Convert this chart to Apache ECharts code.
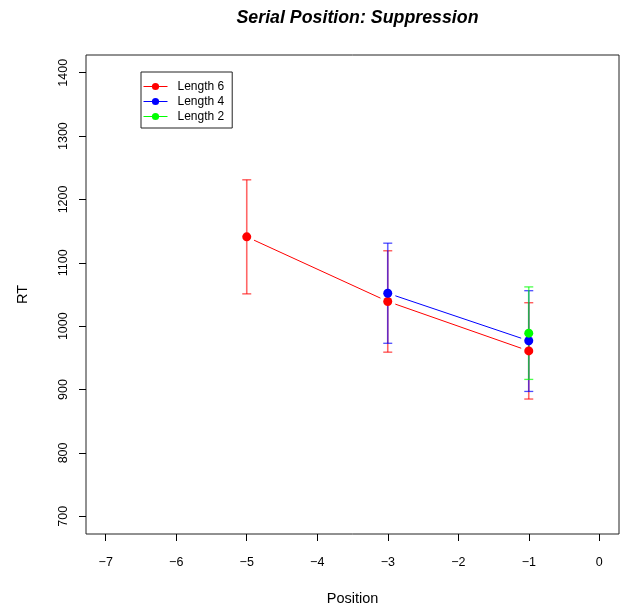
<!DOCTYPE html>
<html>
<head>
<meta charset="utf-8">
<script src="https://cdn.jsdelivr.net/npm/echarts@6/dist/echarts.min.js"></script>
<style>
html, body { margin: 0; padding: 0; background: #fff; }
#chart { width: 621px; height: 606px; }
</style>
</head>
<body>
<div id="chart"></div>
<script>
// tick labels
const xTicks = [-7, -6, -5, -4, -3, -2, -1, 0];
const yTicks = [700, 800, 900, 1000, 1100, 1200, 1300, 1400];

// Length 6
const pos6 = [-5, -3, -1];
const rt6 = [1141, 1039, 961];
const lo6 = [1051, 959, 885];
const hi6 = [1231, 1119, 1037];

// Length 4
const pos4 = [-3, -1];
const rt4 = [1052, 977];
const lo4 = [973, 897];
const hi4 = [1131, 1056];

// Length 2
const pos2 = [-1];
const rt2 = [989];
const lo2 = [916];
const hi2 = [1062];

const FONT = "'Liberation Sans', Arial, sans-serif";
const RED = "#ff0000";
const BLUE = "#0000ff";
const GREEN = "#00ff00";

const chart = echarts.init(document.getElementById("chart"));

function points(xs, ys) {
    return xs.map((x, i) => [x, ys[i]]);
}

// segments between consecutive points (drawn with gaps, like R type="b")
function segments(xs, ys) {
    const out = [];
    for (let i = 0; i < xs.length - 1; i++) {
        out.push([xs[i], ys[i], xs[i + 1], ys[i + 1]]);
    }
    return out;
}

function bars(xs, lo, hi) {
    return xs.map((x, i) => [x, lo[i], hi[i]]);
}

function gapLine(color) {
    return function (params, api) {
        const a = api.coord([api.value(0), api.value(1)]);
        const b = api.coord([api.value(2), api.value(3)]);
        const dx = b[0] - a[0];
        const dy = b[1] - a[1];
        const len = Math.sqrt(dx * dx + dy * dy);
        const gap = 8;
        const ux = dx / len;
        const uy = dy / len;
        return {
            type: "line",
            shape: {
                x1: a[0] + ux * gap,
                y1: a[1] + uy * gap,
                x2: b[0] - ux * gap,
                y2: b[1] - uy * gap,
            },
            style: { stroke: color, lineWidth: 1 },
        };
    };
}

function errorBar(color) {
    return function (params, api) {
        const x = api.value(0);
        const lo = api.coord([x, api.value(1)]);
        const hi = api.coord([x, api.value(2)]);
        const w = 4.5;
        const stem = { stroke: color, lineWidth: 1.6, opacity: 0.6 };
        const cap = { stroke: color, lineWidth: 1.3, opacity: 0.7 };
        return {
            type: "group",
            children: [
                { type: "line", shape: { x1: lo[0], y1: lo[1], x2: hi[0], y2: hi[1] }, style: stem },
                { type: "line", shape: { x1: lo[0] - w, y1: lo[1], x2: lo[0] + w, y2: lo[1] }, style: cap },
                { type: "line", shape: { x1: hi[0] - w, y1: hi[1], x2: hi[0] + w, y2: hi[1] }, style: cap },
            ],
        };
    };
}

function minus(v) {
    return String(v).replace("-", "\u2212");
}

const groups = [
    { name: "Length 6", color: RED, xs: pos6, ys: rt6, lo: lo6, hi: hi6 },
    { name: "Length 4", color: BLUE, xs: pos4, ys: rt4, lo: lo4, hi: hi4 },
    { name: "Length 2", color: GREEN, xs: pos2, ys: rt2, lo: lo2, hi: hi2 },
];

const series = [];
groups.forEach((g, i) => {
    series.push({
        name: g.name + " bars",
        type: "custom",
        renderItem: errorBar(g.color),
        data: bars(g.xs, g.lo, g.hi),
        encode: { x: 0, y: [1, 2] },
        z: 2 + i,
        silent: true,
    });
});
groups.forEach((g, i) => {
    series.push({
        name: g.name + " lines",
        type: "custom",
        renderItem: gapLine(g.color),
        data: segments(g.xs, g.ys),
        encode: { x: [0, 2], y: [1, 3] },
        z: 5 + i,
        silent: true,
    });
    series.push({
        name: g.name,
        type: "line",
        data: points(g.xs, g.ys),
        symbol: "circle",
        symbolSize: 9,
        showSymbol: true,
        itemStyle: { color: g.color },
        lineStyle: { color: g.color, width: 1, opacity: 0 },
        z: 10 + i,
        silent: true,
    });
});

const option = {
    animation: false,
    backgroundColor: "#fff",
    title: {
        text: "Serial Position: Suppression",
        left: 352.5,
        textAlign: "center",
        top: 4,
        textStyle: {
            fontFamily: FONT,
            fontSize: 17.8,
            fontWeight: "bold",
            fontStyle: "italic",
            color: "#000",
        },
    },
    grid: {
        left: 86,
        right: 2,
        top: 55,
        bottom: 72,
        outerBoundsMode: "none",
        containLabel: false,
        show: true,
        borderColor: "#222",
        borderWidth: 1,
        backgroundColor: "transparent",
    },
    legend: {
        data: groups.map((g) => g.name),
        orient: "vertical",
        left: 141,
        top: 72,
        padding: [7, 8, 4, 2],
        itemGap: 0,
        itemWidth: 24,
        itemHeight: 9,
        borderColor: "#222",
        borderWidth: 1,
        borderRadius: 0,
        backgroundColor: "#fff",
        lineStyle: { opacity: 1, width: 1 },
        textStyle: {
            fontFamily: FONT,
            fontSize: 12,
            lineHeight: 15,
            color: "#000",
            padding: [0, 0, 0, 5],
        },
        selectedMode: false,
    },
    xAxis: {
        type: "value",
        min: -7.28,
        max: 0.28,
        name: "Position",
        nameLocation: "middle",
        nameGap: 57,
        nameTextStyle: { fontFamily: FONT, fontSize: 14.5, color: "#000" },
        axisLine: { show: false, onZero: false },
        axisTick: { show: true, length: 7, customValues: xTicks, lineStyle: { color: "#000" } },
        axisLabel: {
            customValues: xTicks,
            margin: 22,
            formatter: minus,
            fontFamily: FONT,
            fontSize: 12.5,
            color: "#000",
        },
        splitLine: { show: false },
    },
    yAxis: {
        type: "value",
        min: 672,
        max: 1428,
        name: "RT",
        nameLocation: "middle",
        nameGap: 56,
        nameRotate: 90,
        nameTextStyle: { fontFamily: FONT, fontSize: 14.5, color: "#000" },
        axisLine: { show: false, onZero: false },
        axisTick: { show: true, length: 7, customValues: yTicks, lineStyle: { color: "#000" } },
        axisLabel: {
            customValues: yTicks,
            rotate: 90,
            margin: 16,
            formatter: (v) => String(v),
            fontFamily: FONT,
            fontSize: 12.5,
            color: "#000",
        },
        splitLine: { show: false },
    },
    series: series,
};

chart.setOption(option);
</script>
</body>
</html>
